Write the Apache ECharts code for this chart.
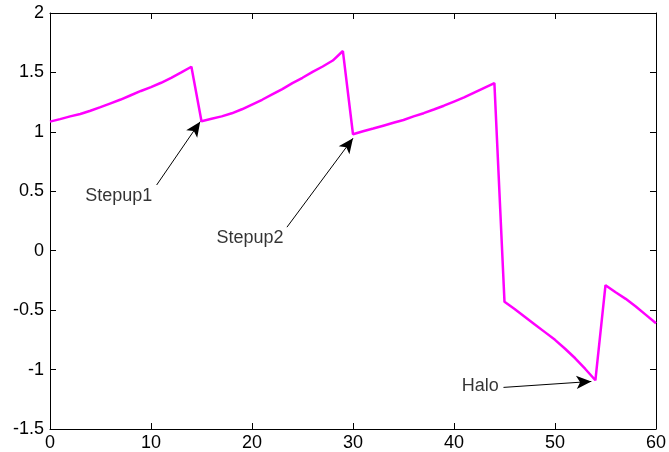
<!DOCTYPE html>
<html>
<head>
<meta charset="utf-8">
<script src="https://cdn.jsdelivr.net/npm/echarts@6/dist/echarts.min.js"></script>
<style>
  html, body { margin: 0; padding: 0; background: #fff; }
  #chart { width: 669px; height: 452px; }
</style>
</head>
<body>
<div id="chart"></div>
<script>
// x samples (one per unit) and the curve values
var xValues = [
  0, 1, 2, 3, 4, 5, 6, 7, 8, 9, 10, 11, 12, 13, 14,
  15, 16, 17, 18, 19, 20, 21, 22, 23, 24, 25, 26, 27, 28, 29,
  30, 31, 32, 33, 34, 35, 36, 37, 38, 39, 40, 41, 42, 43, 44,
  45, 46, 47, 48, 49, 50, 51, 52, 53, 54,
  55, 56, 57, 58, 59, 60
];
var yValues = [
  1.086, 1.107, 1.13, 1.15, 1.178, 1.208, 1.24, 1.272, 1.308, 1.344, 1.377, 1.413, 1.455, 1.50, 1.548,
  1.09, 1.11, 1.13, 1.156, 1.19, 1.23, 1.27, 1.315, 1.36, 1.41, 1.455, 1.505, 1.55, 1.60, 1.68,
  0.98, 1.005, 1.028, 1.052, 1.076, 1.10, 1.13, 1.157, 1.188, 1.22, 1.255, 1.29, 1.33, 1.37, 1.41,
  -0.43, -0.49, -0.555, -0.62, -0.685, -0.75, -0.825, -0.905, -0.995, -1.09,
  -0.29, -0.35, -0.405, -0.47, -0.54, -0.61
];

// annotations (data units)
var noteText = ["Stepup1", "Stepup2", "Halo"];
var notePos = [[6.8, 0.46], [19.8, 0.11], [42.6, -1.137]];
var arrowTail = [[10.56, 0.553], [23.46, 0.198], [44.9, -1.15]];
var arrowTip = [[14.87, 1.086], [30.0, 0.946], [53.6, -1.10]];

var xTicks = { min: 0, max: 60, interval: 10 };
var yTicks = { min: -1.5, max: 2, interval: 0.5 };

var lineData = xValues.map(function (x, i) { return [x, yValues[i]]; });
var arrowData = arrowTail.map(function (t, i) {
  return [{ coord: t }, { coord: arrowTip[i] }];
});
var textData = notePos.map(function (p, i) { return [p[0], p[1], noteText[i]]; });

var font = "'Liberation Sans', Arial, sans-serif";
var axisLine = { show: true, onZero: false, lineStyle: { color: "#000", width: 1 } };
var axisTick = { show: true, inside: true, length: 6, lineStyle: { color: "#000" } };

var myChart = echarts.init(document.getElementById("chart"), null, { renderer: "canvas" });
var option = {
  animation: false,
  backgroundColor: "#fff",
  grid: { left: 50, right: 7, top: 13, bottom: 23 },
  xAxis: [
    {
      type: "value", min: xTicks.min, max: xTicks.max, interval: xTicks.interval,
      position: "bottom",
      axisLine: axisLine, axisTick: axisTick, splitLine: { show: false },
      axisLabel: { color: "#000", fontSize: 18, fontFamily: font, margin: 5 }
    },
    {
      type: "value", min: xTicks.min, max: xTicks.max, interval: xTicks.interval,
      position: "top",
      axisLine: axisLine, axisTick: axisTick, splitLine: { show: false },
      axisLabel: { show: false }
    }
  ],
  yAxis: [
    {
      type: "value", min: yTicks.min, max: yTicks.max, interval: yTicks.interval,
      position: "left",
      axisLine: axisLine, axisTick: axisTick, splitLine: { show: false },
      axisLabel: { color: "#000", fontSize: 18, fontFamily: font, margin: 6 }
    },
    {
      type: "value", min: yTicks.min, max: yTicks.max, interval: yTicks.interval,
      position: "right",
      axisLine: axisLine, axisTick: axisTick, splitLine: { show: false },
      axisLabel: { show: false }
    }
  ],
  series: [
    {
      type: "line",
      data: lineData,
      showSymbol: false,
      symbol: "none",
      lineStyle: { color: "#ff00ff", width: 2.5 },
      itemStyle: { color: "#ff00ff" },
      markLine: {
        silent: true,
        symbol: ["none", "arrow"],
        symbolSize: [10, 15],
        label: { show: false },
        lineStyle: { color: "#000", width: 1, type: "solid" },
        itemStyle: { color: "#000" },
        data: arrowData
      }
    },
    {
      type: "scatter",
      data: textData,
      symbolSize: 0,
      silent: true,
      label: {
        show: true,
        position: "inside",
        color: "#000",
        fontSize: 18,
        fontFamily: font,
        formatter: function (p) { return p.value[2]; }
      }
    }
  ]
};
myChart.setOption(option);
</script>
</body>
</html>
